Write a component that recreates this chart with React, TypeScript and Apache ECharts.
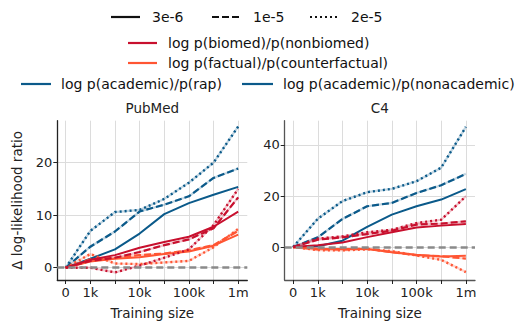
import { useEffect, useRef } from 'react';
import * as echarts from 'echarts';

// Training sizes (symlog-like evenly spaced positions)
const sizes = ['0', '1k', '3k', '10k', '30k', '100k', '300k', '1m'];
const tickLabels = ['0', '1k', '', '10k', '', '100k', '', '1m'];
const learningRates = ['3e-6', '1e-5', '2e-5'];

// PubMed panel: [3e-6 solid, 1e-5 dashed, 2e-5 dotted]
const pubAcademicSolid = [0, 1.7, 3.5, 6.5, 10.2, 12.3, 13.9, 15.4];
const pubAcademicDashed = [0, 4.0, 6.9, 10.7, 12.0, 13.6, 17.1, 18.9];
const pubAcademicDotted = [0, 7.0, 10.6, 11.0, 13.1, 16.2, 20.0, 26.9];
const pubBiomedSolid = [0, 1.5, 2.4, 3.8, 4.9, 5.9, 7.8, 10.7];
const pubBiomedDashed = [0, 1.3, 1.9, 3.0, 4.3, 5.4, 7.5, 13.4];
const pubBiomedDotted = [0, 0.0, -0.9, 0.4, 1.9, 3.5, 8.1, 15.0];
const pubFactualSolid = [0, 1.2, 1.7, 2.0, 2.6, 3.1, 4.2, 6.3];
const pubFactualDashed = [0, 1.6, 1.9, 2.4, 2.7, 3.3, 4.3, 7.0];
const pubFactualDotted = [0, 2.6, 0.8, 0.7, 1.0, 1.3, 3.9, 7.4];

// C4 panel
const c4AcademicSolid = [0, 0.3, 2.5, 7.9, 12.7, 16.0, 18.6, 22.7];
const c4AcademicDashed = [0, 3.8, 11.0, 16.0, 17.3, 21.2, 24.2, 28.7];
const c4AcademicDotted = [0, 11.1, 18.0, 21.5, 22.8, 25.8, 31.1, 47.1];
const c4BiomedSolid = [0, 0.7, 1.8, 3.9, 5.8, 7.7, 8.4, 9.0];
const c4BiomedDashed = [0, 2.9, 3.8, 5.1, 6.4, 8.8, 9.2, 10.1];
const c4BiomedDotted = [0, 3.3, 4.2, 5.8, 6.8, 9.4, 10.7, 19.9];
const c4FactualSolid = [0, -0.7, -0.8, -0.8, -2.0, -3.0, -3.7, -3.4];
const c4FactualDashed = [0, -0.9, -1.0, -0.6, -2.0, -3.2, -3.6, -4.5];
const c4FactualDotted = [0, -1.2, -1.3, -0.9, -1.6, -3.3, -5.0, -9.8];

const pubYTicks = [0, 10, 20];
const c4YTicks = [0, 20, 40];

const RED = '#c8102e';
const ORANGE = '#ff5533';
const BLUE = '#0b5a8a';
const FONT = 'DejaVu Sans';

const styleDefs: Record<string, any> = {
  solid: { type: 'solid', width: 2 },
  dashed: { type: [7, 3], width: 2.2 },
  dotted: { type: [2, 3], width: 2.4 },
};

function makeSeries(values: number[], color: string, style: string, gi: number) {
  const data = values.map((v, i) => [i, v]);
  const out: any[] = [];
  if (style !== 'solid') {
    out.push({
      type: 'line', xAxisIndex: gi, yAxisIndex: gi, data, showSymbol: false, silent: true,
      lineStyle: { color, width: 2.2, opacity: 0.25 }, z: 2,
    });
  }
  out.push({
    type: 'line', xAxisIndex: gi, yAxisIndex: gi, data, showSymbol: false, silent: true,
    lineStyle: { color, ...styleDefs[style] }, z: 3,
  });
  return out;
}

export default function App() {
  const ref = useRef<HTMLDivElement>(null);
  useEffect(() => {
    if (!ref.current) return;
    const chart = echarts.init(ref.current, null, { renderer: 'svg' });

    const panels = [
      { title: 'PubMed', yMin: -2.34, yMax: 28.0, yTicks: pubYTicks, axisColor: '#222',
        lines: [
          [pubAcademicSolid, BLUE, 'solid'], [pubAcademicDashed, BLUE, 'dashed'], [pubAcademicDotted, BLUE, 'dotted'],
          [pubFactualSolid, ORANGE, 'solid'], [pubFactualDashed, ORANGE, 'dashed'], [pubFactualDotted, ORANGE, 'dotted'],
          [pubBiomedSolid, RED, 'solid'], [pubBiomedDashed, RED, 'dashed'], [pubBiomedDotted, RED, 'dotted'],
        ] },
      { title: 'C4', yMin: -12.9, yMax: 49.5, yTicks: c4YTicks, axisColor: '#555',
        lines: [
          [c4AcademicSolid, BLUE, 'solid'], [c4AcademicDashed, BLUE, 'dashed'], [c4AcademicDotted, BLUE, 'dotted'],
          [c4FactualSolid, ORANGE, 'solid'], [c4FactualDashed, ORANGE, 'dashed'], [c4FactualDotted, ORANGE, 'dotted'],
          [c4BiomedSolid, RED, 'solid'], [c4BiomedDashed, RED, 'dashed'], [c4BiomedDotted, RED, 'dotted'],
        ] },
    ];

    const grids = [
      { left: 57.3, top: 120.7, width: 190, height: 159.3 },
      { left: 284.7, top: 120.7, width: 190.3, height: 159.3 },
    ];

    const xTickValues = sizes.map((_, i) => i);

    const xAxes = panels.map((p, gi) => ({
      type: 'value', gridIndex: gi, min: -0.34, max: 7.37,
      name: 'Training size', nameLocation: 'middle', nameGap: 26,
      nameTextStyle: { fontFamily: FONT, fontSize: 13.5, color: '#222' },
      axisLine: { show: true, onZero: false, lineStyle: { color: p.axisColor, width: 1.3 } },
      axisTick: { show: true, customValues: xTickValues, length: 4, lineStyle: { color: '#222', width: 1 } },
      axisLabel: { customValues: xTickValues, formatter: (v: number) => tickLabels[Math.round(v)] ?? '',
        fontFamily: FONT, fontSize: 13, color: '#222', margin: 6 },
      splitLine: { show: true, lineStyle: { color: '#dcdcdc', width: 1 } },
    }));

    const yAxes = panels.map((p, gi) => ({
      type: 'value', gridIndex: gi, min: p.yMin, max: p.yMax,
      name: gi === 0 ? 'Δ log-likelihood ratio' : '', nameLocation: 'middle', nameGap: 33, nameRotate: 90,
      nameTextStyle: { fontFamily: FONT, fontSize: 13.5, color: '#222' },
      axisLine: { show: true, onZero: false, lineStyle: { color: p.axisColor, width: 1.3 } },
      axisTick: { show: true, customValues: p.yTicks, length: 4, lineStyle: { color: '#222', width: 1 } },
      axisLabel: { customValues: p.yTicks, fontFamily: FONT, fontSize: 13, color: '#222', margin: 5 },
      splitLine: { show: true, lineStyle: { color: '#dcdcdc', width: 1 } },
    }));

    const series: any[] = [];
    panels.forEach((p, gi) => {
      p.lines.forEach((l: any) => series.push(...makeSeries(l[0], l[1], l[2], gi)));
      series.push({
        type: 'line', xAxisIndex: gi, yAxisIndex: gi, data: [], showSymbol: false, silent: true, z: 5,
        markLine: { silent: true, symbol: 'none', label: { show: false },
          lineStyle: { color: '#8a8a8a', type: [7, 4], width: 2.6 }, data: [{ yAxis: 0 }] },
      });
    });

    const legendText = (x: number, y: number, text: string) => ({
      type: 'text', x, y, style: { text, fontFamily: FONT, fontSize: 14, fill: '#111', verticalAlign: 'middle', align: 'left' },
    });
    const legendLine = (x1: number, x2: number, y: number, color: string, dash: any, width: number) => ({
      type: 'line', shape: { x1, y1: y, x2, y2: y }, style: { stroke: color, lineWidth: width, lineDash: dash },
    });

    const styleKeys = ['solid', 'dashed', 'dotted'];
    const row1X = [111, 212, 310];
    const graphic: any[] = [];
    learningRates.forEach((lr, i) => {
      const sd = styleDefs[styleKeys[i]];
      graphic.push(legendLine(row1X[i], row1X[i] + 29, 17, '#111', sd.type === 'solid' ? null : sd.type, 2.2));
      graphic.push(legendText(row1X[i] + 41, 17, lr));
    });
    graphic.push(legendLine(128, 157, 43, RED, null, 2.2));
    graphic.push(legendText(168, 43, 'log p(biomed)/p(nonbiomed)'));
    graphic.push(legendLine(128, 157, 63, ORANGE, null, 2.2));
    graphic.push(legendText(168, 63, 'log p(factual)/p(counterfactual)'));
    graphic.push(legendLine(21, 51, 84, BLUE, null, 2.2));
    graphic.push(legendText(61, 84, 'log p(academic)/p(rap)'));
    graphic.push(legendLine(242, 273, 84, BLUE, null, 2.2));
    graphic.push(legendText(283, 84, 'log p(academic)/p(nonacademic)'));
    panels.forEach((p, gi) => {
      graphic.push({ type: 'text', x: grids[gi].left + grids[gi].width / 2, y: 108,
        style: { text: p.title, fontFamily: FONT, fontSize: 13.5, fill: '#222', align: 'center', verticalAlign: 'middle' } });
    });

    chart.setOption({
      animation: false,
      backgroundColor: '#fff',
      grid: grids,
      xAxis: xAxes,
      yAxis: yAxes,
      series,
      graphic,
    });
    return () => chart.dispose();
  }, []);
  return <div ref={ref} style={{ width: 516, height: 321, position: 'absolute', left: 0, top: 0 }} />;
}
